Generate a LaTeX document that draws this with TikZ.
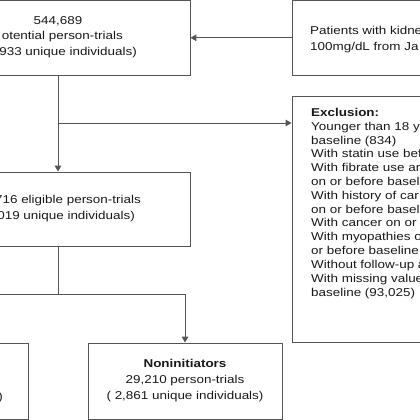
\documentclass[tikz,border=0pt]{standalone}
\usepackage{fontspec}
\setmainfont{Liberation Sans}[FakeStretch=1.18]
\usepackage{xcolor}
\usetikzlibrary{arrows.meta}
\definecolor{linegray}{RGB}{85,85,85}
\definecolor{textgray}{RGB}{25,25,25}

\begin{document}
\begin{tikzpicture}[
    box/.style={draw=linegray,line width=0.9pt,minimum width=8.8cm,minimum height=2.48cm,inner sep=0pt},
    txt/.style={inner sep=0pt,text=textgray,font=\fontsize{10.8}{15.2}\selectfont},
    arr/.style={draw=linegray,line width=0.9pt,-{Triangle[length=2mm,width=2.2mm]}},
    conn/.style={draw=linegray,line width=0.9pt}
]
    \useasboundingbox (0,0) rectangle (14,14);
    \clip (0,0) rectangle (14,14);

    % Boxes on top row
    \node[box] (potential) at (1.933,12.74) {};
    \node[box,minimum width=9.333cm] (kidney) at (14.4,12.74) {};
    \node[txt] (n544) at (1.933,13.3) {544,689};
    \node[txt,anchor=east] (ptrials) at (4.1,12.767) {otential person-trials};
    \node[txt,anchor=east] (punique) at (4.567,12.233) {933 unique individuals)};
    \node[txt,anchor=north west,align=left] (kidneytxt) at (10.333,13.13) {Patients with kidne\\100mg/dL from Ja};
    \draw[arr] (kidney.west) -- (potential.east);

    % Eligible box and exclusion box
    \node[box,minimum height=2.467cm] (eligible) at (1.933,7.033) {};
    \node[txt,anchor=east] (etrials) at (4.7,7.3) {716 eligible person-trials};
    \node[txt,anchor=east] (eunique) at (4.5,6.767) {019 unique individuals)};
    \node[box,minimum width=9.333cm,minimum height=8.2cm] (exclusion) at (14.4,6.7) {};
    \node[txt,anchor=north west,align=left,font=\fontsize{10.8}{13.1}\selectfont] (exclist) at (10.367,10.4) {%
        \textbf{Exclusion:}\\
        Younger than 18 y\\
        baseline (834)\\
        With statin use bef\\
        With fibrate use ar\\
        on or before basel\\
        With history of car\\
        on or before basel\\
        With cancer on or\\
        With myopathies o\\
        or before baseline\\
        Without follow-up a\\
        With missing value\\
        baseline (93,025)};
    \coordinate (split1) at (1.933,9.9);
    \draw[conn] (potential.south) -- (split1);
    \draw[arr] (split1) -- (eligible.north);
    \draw[arr] (split1) -- (split1 -| exclusion.west);

    % Bottom row
    \node[box,minimum width=6.467cm,minimum height=2.533cm] (initiators) at (-2.3,1.3) {};
    \node[txt,anchor=east] (itxt) at (0.1,0.74) {)};
    \node[box,minimum width=6.467cm,minimum height=2.533cm,txt,align=center] (noninit) at (6.167,1.3)
        {\textbf{Noninitiators}\\29,210 person-trials\\( 2,861 unique individuals)};
    \coordinate (split2) at (1.933,4.2);
    \draw[conn] (eligible.south) -- (split2);
    \draw[arr] (split2) -| (noninit.north);
    \draw[arr] (split2) -| (initiators.north);
\end{tikzpicture}
\end{document}
